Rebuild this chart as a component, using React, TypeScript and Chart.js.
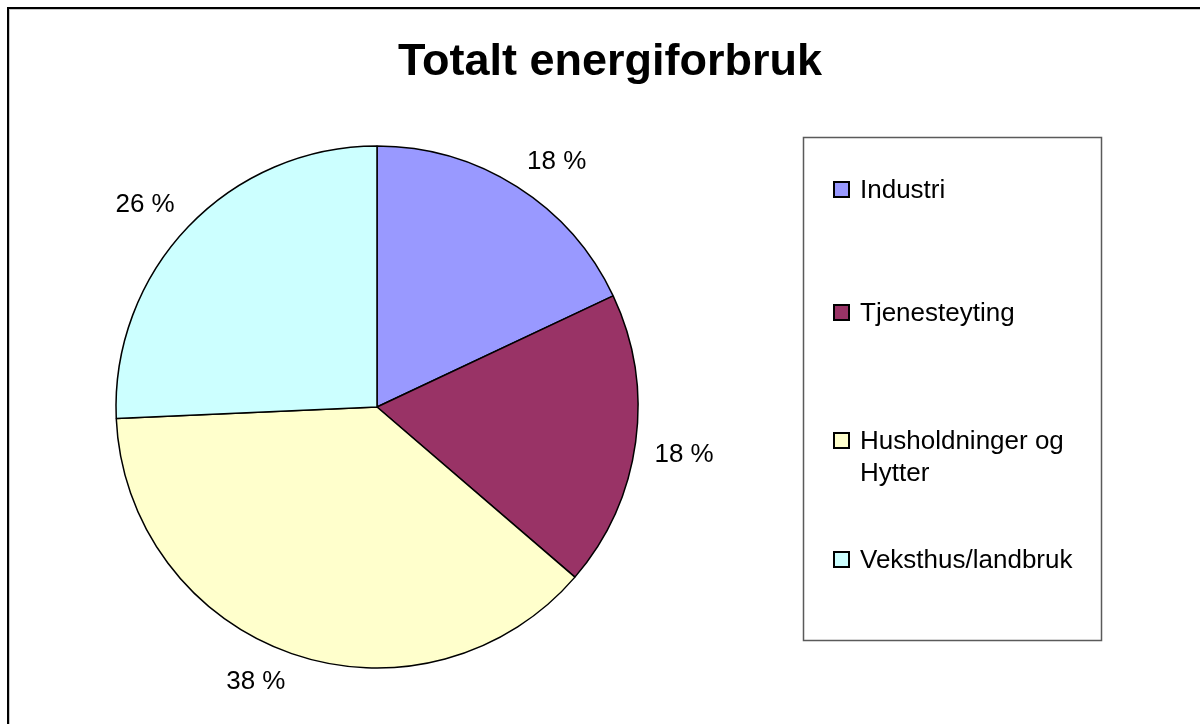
import React, { useEffect, useRef } from 'react';
import { Chart, registerables } from 'chart.js';

Chart.register(...registerables);

const chartTitle = 'Totalt energiforbruk';
const categories = ['Industri', 'Tjenesteyting', 'Husholdninger og Hytter', 'Veksthus/landbruk'];
const shares = [18.0, 18.3, 38.0, 25.7];
const sliceColors = ['#9999FF', '#993366', '#FFFFCC', '#CCFFFF'];

const FONT = '"Liberation Sans", Arial, Helvetica, sans-serif';

const framePlugin = {
  id: 'frame',
  beforeDraw(chart: any) {
    const ctx = chart.ctx;
    ctx.save();
    ctx.fillStyle = '#ffffff';
    ctx.fillRect(0, 0, chart.width, chart.height);
    ctx.fillStyle = '#000000';
    ctx.fillRect(0, 0, chart.width, 2);
    ctx.fillRect(0, 0, 2, chart.height);
    ctx.fillStyle = '#c8c8c8';
    ctx.fillRect(2, 2, chart.width - 2, 1);
    ctx.fillRect(2, 2, 1, chart.height - 2);
    ctx.restore();
  },
};

const titlePlugin = {
  id: 'excelTitle',
  afterDraw(chart: any) {
    const ctx = chart.ctx;
    ctx.save();
    ctx.font = `bold 45px ${FONT}`;
    ctx.fillStyle = '#000';
    ctx.textAlign = 'center';
    ctx.textBaseline = 'alphabetic';
    ctx.fillText(chartTitle, 603, 68);
    ctx.restore();
  },
};

function wrapText(ctx: CanvasRenderingContext2D, text: string, maxW: number): string[] {
  const words = text.split(' ');
  const lines: string[] = [];
  let cur = '';
  for (const w of words) {
    const test = cur ? cur + ' ' + w : w;
    if (ctx.measureText(test).width > maxW && cur) {
      lines.push(cur);
      cur = w;
    } else {
      cur = test;
    }
  }
  if (cur) lines.push(cur);
  return lines;
}

const legendPlugin = {
  id: 'excelLegend',
  afterDraw(chart: any) {
    const ctx = chart.ctx;
    const labels: string[] = chart.data.labels;
    const colors: string[] = chart.data.datasets[0].backgroundColor;
    const baselines = [191, 314, 442, 561];
    ctx.save();
    ctx.strokeStyle = '#5a5a5a';
    ctx.lineWidth = 1.5;
    ctx.strokeRect(796.5, 130.5, 298, 503);
    ctx.font = `26px ${FONT}`;
    ctx.textAlign = 'left';
    ctx.textBaseline = 'alphabetic';
    labels.forEach((lab, i) => {
      const b = baselines[i];
      ctx.fillStyle = colors[i];
      ctx.fillRect(827, b - 16, 15, 15);
      ctx.strokeStyle = '#000';
      ctx.lineWidth = 2;
      ctx.strokeRect(827, b - 16, 15, 15);
      ctx.fillStyle = '#000';
      const lines = wrapText(ctx, lab, 228);
      lines.forEach((ln, j) => ctx.fillText(ln, 853, b + j * 32));
    });
    ctx.restore();
  },
};

const pctLabelPlugin = {
  id: 'pctLabels',
  afterDatasetsDraw(chart: any) {
    const ctx = chart.ctx;
    const meta = chart.getDatasetMeta(0);
    const data: number[] = chart.data.datasets[0].data;
    const total = data.reduce((a, b) => a + b, 0);
    ctx.save();
    ctx.font = `26px ${FONT}`;
    ctx.fillStyle = '#000';
    ctx.textAlign = 'center';
    ctx.textBaseline = 'middle';
    meta.data.forEach((arc: any, i: number) => {
      const { x, y, startAngle, endAngle, outerRadius } = arc.getProps(
        ['x', 'y', 'startAngle', 'endAngle', 'outerRadius'],
        true
      );
      const mid = (startAngle + endAngle) / 2;
      const c = Math.cos(mid);
      const s = Math.sin(mid);
      const R = outerRadius + 19;
      const txt = `${Math.round((data[i] / total) * 100)} %`;
      const w = ctx.measureText(txt).width;
      const cx = x + R * c + (w / 2) * Math.sign(c);
      const cy = y + R * s + 9.5 * Math.sign(s);
      ctx.fillText(txt, cx, cy + 1);
    });
    ctx.restore();
  },
};

export default function App() {
  const ref = useRef<HTMLCanvasElement | null>(null);
  useEffect(() => {
    if (!ref.current) return;
    const chart = new Chart(ref.current, {
      type: 'pie',
      data: {
        labels: categories,
        datasets: [
          {
            data: shares,
            backgroundColor: sliceColors,
            borderColor: '#000000',
            borderWidth: 1.5,
          },
        ],
      },
      options: {
        responsive: false,
        animation: false,
        radius: 261,
        layout: { padding: { left: 0, right: 453, top: 100, bottom: 17 } },
        plugins: {
          legend: { display: false },
          title: { display: false },
          tooltip: { enabled: false },
        },
      } as any,
      plugins: [framePlugin, pctLabelPlugin, legendPlugin, titlePlugin],
    });
    return () => chart.destroy();
  }, []);
  return (
    <div style={{ width: 1184, height: 708 }}>
      <div style={{ position: 'fixed', left: 7, top: 7, width: 1193, height: 717, overflow: 'hidden' }}>
        <canvas ref={ref} width={1193} height={717} style={{ display: 'block' }} />
      </div>
    </div>
  );
}
